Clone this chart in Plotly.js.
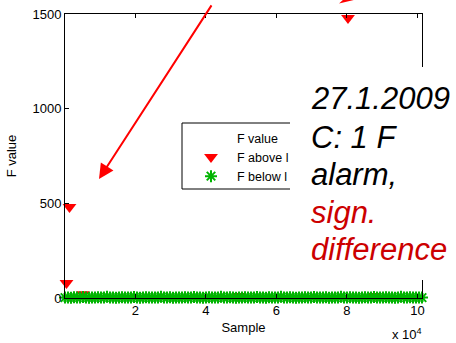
<!DOCTYPE html>
<html>
<head>
<meta charset="utf-8">
<script src="https://cdn.plot.ly/plotly-3.0.1.min.js"></script>
<style>
  html, body { margin: 0; padding: 0; background: #fff; }
  #chart { width: 456px; height: 343px; }
</style>
</head>
<body>
<div id="chart"></div>
<script>
// F statistic per sample, split into the three plotted series
const lastSample = 101300;

// F values below the limit (green asterisks), evenly spaced over the samples
const belowValues = [2,3,1,4,2,3,5,2,1,3,2,4,3,2,6,3,2,1,3,4,2,3,2,5,3,1,2,4,3,2,
                     3,2,7,3,2,4,1,3,2,3,4,2,3,5,2,3,1,2,4,3,2,3,6,2,3,4,2,1,3,2,
                     4,3,2,3,5,2,3,1,4,2,3,2,6,3,2,4,3,1,2,3,4,2,3,5,2,3,2,4,1,3,
                     2,3,7,2,3,4,2,3,1,2,4,3,2,5,3,2,3,4,2,3,1,2,6,3,2,4,3,2,3,2];

// F values above the limit (red triangles)
const aboveSamples = [425, 1275, 5100, 49200, 80300, 87800];
const aboveValues  = [79, 481, 20, 10, 1479, 10];

// Axis ticks (x in units of 10^4 samples)
const xTickVals = [20000, 40000, 60000, 80000, 100000];
const xTickText = ['2', '4', '6', '8', '10'];
const yTickVals = [0, 500, 1000, 1500];

// Note text, one entry per line
const noteLines = ['27.1.2009', 'C: 1 F', 'alarm,', 'sign.', 'difference'];
const noteColors = ['#000', '#000', '#000', '#cc0000', '#cc0000'];

const step = lastSample / (belowValues.length - 1);
const belowSamples = belowValues.map((_, i) => Math.round(i * step));

// Geometry of the plotting area in page pixels
const W = 456, H = 343;
const M = { l: 65, r: 34, t: 14, b: 45 };
const PW = W - M.l - M.r, PH = H - M.t - M.b;
const px = x => (x - M.l) / PW;
const py = y => (H - M.b - y) / PH;

const FONT = 'Liberation Sans, Arial, sans-serif';

const traces = [
  {
    name: 'F value', x: belowSamples, y: belowValues, mode: 'lines',
    line: { color: 'rgba(0,0,0,0)', width: 0 }, hoverinfo: 'skip'
  },
  {
    name: 'F above l', x: aboveSamples, y: aboveValues, mode: 'markers',
    cliponaxis: false,
    marker: { symbol: 'triangle-down', size: 12, color: '#ff0000' }
  },
  {
    name: 'F below l', x: belowSamples, y: belowValues, mode: 'markers',
    cliponaxis: false,
    marker: { symbol: 'asterisk-open', size: 10, color: '#00b400',
              line: { color: '#00b400', width: 2 } }
  }
];

// one annotation per note line, spaced evenly down the panel
const noteTops = [79, 118, 155, 193, 230];
const noteAnnotations = noteLines.map((s, i) => ({
  xref: 'paper', yref: 'paper', x: px(309), y: py(noteTops[i]),
  xanchor: 'left', yanchor: 'top', align: 'left', showarrow: false,
  text: '<i>' + s + '</i>',
  font: { family: FONT, size: 31, color: noteColors[i] }
}));

const layout = {
  width: W, height: H,
  margin: M,
  paper_bgcolor: '#fff', plot_bgcolor: '#fff',
  font: { family: FONT, size: 13, color: '#000' },
  showlegend: true,
  legend: {
    x: px(185), y: py(123), xanchor: 'left', yanchor: 'top',
    bgcolor: 'rgba(0,0,0,0)', borderwidth: 0,
    itemwidth: 42, font: { family: FONT, size: 12.5, color: '#000' },
    tracegroupgap: 0
  },
  xaxis: {
    range: [0, lastSample], showgrid: false, zeroline: false,
    showline: true, linecolor: '#000', linewidth: 1, mirror: 'ticks',
    ticks: 'inside', ticklen: 4, tickcolor: '#000',
    tickvals: xTickVals, ticktext: xTickText,
    tickfont: { family: FONT, size: 13 },
    title: { text: 'Sample', font: { family: FONT, size: 13 }, standoff: 6 }
  },
  yaxis: {
    range: [0, 1500], showgrid: false, zeroline: false,
    showline: true, linecolor: '#000', linewidth: 1, mirror: 'ticks',
    ticks: 'inside', ticklen: 4, tickcolor: '#000',
    tickvals: yTickVals,
    tickfont: { family: FONT, size: 13 },
    title: { text: 'F value', font: { family: FONT, size: 13 }, standoff: 12 }
  },
  shapes: [
    // legend frame
    { type: 'rect', xref: 'paper', yref: 'paper', layer: 'above',
      x0: px(182), x1: px(300), y0: py(189), y1: py(123),
      line: { color: '#000', width: 1 }, fillcolor: 'rgba(0,0,0,0)' },
    // white panel behind the note
    { type: 'rect', xref: 'paper', yref: 'paper', layer: 'above',
      x0: px(290), x1: px(460), y0: py(280), y1: py(67),
      line: { width: 0 }, fillcolor: '#fff' },
    // tip of a second arrow at the top edge
    { type: 'path', xref: 'paper', yref: 'paper', layer: 'above',
      path: 'M' + px(339) + ',' + py(3.5) + ' L' + px(344) + ',' + py(-1) +
            ' L' + px(358) + ',' + py(-1) + ' Z',
      line: { width: 0 }, fillcolor: '#ff0000' }
  ],
  annotations: [
    // red arrow pointing at the early alarm
    { xref: 'x', yref: 'y', x: 9648, y: 628, axref: 'pixel', ayref: 'pixel',
      ax: 116, ay: -195, text: ' ', showarrow: true,
      arrowhead: 2, arrowsize: 1.5, arrowwidth: 2, arrowcolor: '#ff0000', standoff: 0 },
    // axis multiplier
    { xref: 'paper', yref: 'paper', x: px(390), y: py(334),
      xanchor: 'left', yanchor: 'middle', showarrow: false,
      text: 'x 10<sup>4</sup>', font: { family: FONT, size: 13, color: '#000' } }
  ].concat(noteAnnotations)
};

Plotly.newPlot('chart', traces, layout, { staticPlot: true, displayModeBar: false });
</script>
</body>
</html>
